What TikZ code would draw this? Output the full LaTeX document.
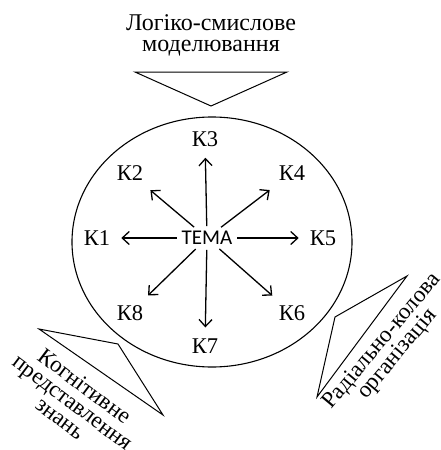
\documentclass[tikz,border=0pt]{standalone}
\usepackage{fontspec}
\setmainfont{Liberation Serif}
\newfontfamily\temafont{Carlito}
\usetikzlibrary{arrows.meta}
\tikzset{
  kbox/.style={inner sep=7pt,font=\rmfamily\fontsize{22.5}{20}\selectfont},
  capt/.style={align=center,inner sep=0pt,font=\rmfamily\fontsize{24}{21}\selectfont},
  ray/.style={-{Straight Barb[length=7pt,width=13pt]},line width=1.3pt,shorten <=3pt,shorten >=4pt},
  wedge/.style={line width=1pt,line join=miter}
}
\begin{document}
\begin{tikzpicture}[x=1pt,y=-1pt]
  \useasboundingbox (0,0) rectangle (440,450);
  % outer ellipse
  \draw[line width=1.1pt] (212,242) ellipse [x radius=140,y radius=125];
  \draw
    (207,238) node[inner sep=2pt,font=\temafont\fontsize{21}{20}\selectfont] (tema){ТЕМА}
    (97,238) node[kbox] (k1){К1}
    (130,173) node[kbox] (k2){К2}
    (205,139) node[kbox] (k3){К3}
    (292,173) node[kbox] (k4){К4}
    (323,238) node[kbox] (k5){К5}
    (292,313) node[kbox] (k6){К6}
    (205,346) node[kbox] (k7){К7}
    (130,313) node[kbox] (k8){К8};
  \begin{scope}[ray]
    \draw (tema) to (k1);
    \draw (tema) to (k2);
    \draw (tema) to (k3);
    \draw (tema) to (k4);
    \draw (tema) to (k5);
    \draw (tema) to (k6);
    \draw (tema) to (k7);
    \draw (tema) to (k8);
  \end{scope}
  % three wedges
  \draw[wedge] (135,72) -- (287,72) -- (211,106) -- cycle;
  \draw[wedge] (39,329) -- (118,344) -- (163,415) -- cycle;
  \draw[wedge] (407,276) -- (335,317) -- (317,397) -- cycle;
  \node[capt] (logic) at (211,35) {Логіко-смислове\\моделювання};
  \node[capt,rotate=-37,font=\rmfamily\fontsize{23}{20}\selectfont] (cogn) at (73,402) {Когнітивне\\представлення\\знань};
  \node[capt,rotate=50,font=\rmfamily\fontsize{23}{20}\selectfont] (radial) at (390,348) {Радіально-колова\\організація};
\end{tikzpicture}
\end{document}
